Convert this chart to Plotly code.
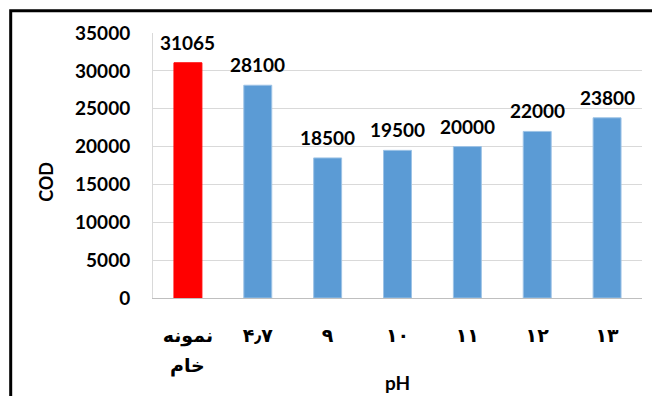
import plotly.graph_objects as go

# COD of the raw sample and after treatment at each pH
categories = ["نمونه", "۴٫۷", "۹", "۱۰", "۱۱", "۱۲", "۱۳"]
category_second_line = "خام"
cod_values = [31065, 28100, 18500, 19500, 20000, 22000, 23800]
bar_colors = ["#FF0000"] + ["#5B9BD5"] * 6
line_colors = ["#FF0000"] + ["#9DC3E6"] * 6
y_ticks = [0, 5000, 10000, 15000, 20000, 25000, 30000, 35000]
y_tick_labels = [str(t) for t in y_ticks]

FONT = "Lato, 'DejaVu Sans', sans-serif"

fig = go.Figure(
    go.Bar(
        x=list(range(len(categories))),
        y=cod_values,
        marker=dict(color=bar_colors, line=dict(color=line_colors, width=1)),
        width=0.4,
        hoverinfo="skip",
    )
)

annotations = []
for i, v in enumerate(cod_values):
    annotations.append(dict(
        x=i, y=v, xref="x", yref="y", text=str(v), showarrow=False,
        yanchor="bottom", yshift=7,
        font=dict(family=FONT, size=19, color="#000000", weight="bold"),
    ))
# second line of the first category label
annotations.append(dict(
    x=0, y=-0.253, xref="x", yref="paper", text=category_second_line,
    showarrow=False, yanchor="middle",
    font=dict(family=FONT, size=19, color="#000000", weight="bold"),
))
# axis titles
annotations.append(dict(
    x=0.5, y=-0.318, xref="paper", yref="paper", text="pH", showarrow=False,
    yanchor="middle", font=dict(family=FONT, size=19, color="#000000", weight="bold"),
))
annotations.append(dict(
    x=-0.218, y=0.44, xref="paper", yref="paper", text="COD", showarrow=False,
    textangle=-90, xanchor="center", yanchor="middle",
    font=dict(family=FONT, size=18, color="#000000", weight="bold"),
))

fig.update_layout(
    width=652, height=396,
    margin=dict(l=153, r=10, t=33, b=98),
    paper_bgcolor="white", plot_bgcolor="white",
    showlegend=False,
    annotations=annotations,
    shapes=[dict(
        type="rect", xref="paper", yref="paper",
        x0=(10.7 - 153) / 489, x1=2.0,
        y0=-2.0, y1=(298 - 10.7) / 265,
        line=dict(color="#000000", width=3), fillcolor="rgba(0,0,0,0)",
        layer="above",
    )],
    xaxis=dict(
        tickmode="array", tickvals=list(range(len(categories))), ticktext=categories,
        range=[-0.5, len(categories) - 0.5],
        showgrid=False, showline=True, linecolor="#BFBFBF", linewidth=1,
        ticks="", ticklabelstandoff=20,
        tickfont=dict(family=FONT, size=19, color="#000000", weight="bold"),
        fixedrange=True,
    ),
    yaxis=dict(
        range=[0, 35000], tickmode="array", tickvals=y_ticks, ticktext=y_tick_labels,
        showgrid=True, gridcolor="#D9D9D9", gridwidth=1,
        showline=True, linecolor="#D9D9D9", linewidth=1,
        zeroline=False, ticks="", ticklabelstandoff=18,
        tickfont=dict(family=FONT, size=19, color="#000000", weight="bold"),
        fixedrange=True,
    ),
)

fig.write_html("out.html", config={"displayModeBar": False})
